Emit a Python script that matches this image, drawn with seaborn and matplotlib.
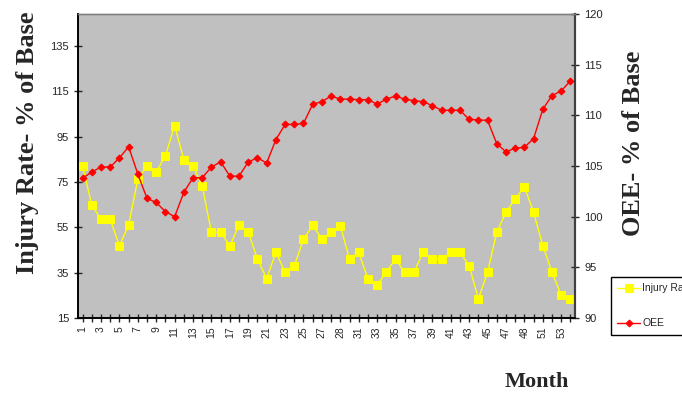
import numpy as np
import pandas as pd
import matplotlib
matplotlib.use("Agg")
import matplotlib.pyplot as plt
import seaborn as sns

months = [str(i) for i in range(1, 55)]
months[28] = "28"
months[48] = "48"

injury_rate = [82.0, 64.7, 58.5, 58.5, 46.9, 55.9, 76.2, 82.0, 79.4, 86.5,
               99.8, 84.8, 82.0, 73.1, 52.8, 52.8, 46.9, 55.9, 52.8, 41.0,
               32.3, 44.0, 35.3, 37.9, 49.8, 55.8, 49.9, 52.8, 55.7, 41.0,
               44.0, 32.3, 29.7, 35.2, 41.0, 35.2, 35.2, 44.0, 41.0, 41.0,
               44.0, 44.0, 38.1, 23.4, 35.2, 52.8, 61.6, 67.5, 72.9, 61.6,
               46.9, 35.2, 25.1, 23.4]

oee = [103.8, 104.4, 104.9, 104.9, 105.8, 106.9, 104.2, 101.8, 101.4, 100.5,
       100.0, 102.4, 103.85, 103.85, 104.9, 105.4, 104.0, 104.0, 105.4, 105.8,
       105.3, 107.6, 109.1, 109.1, 109.2, 111.1, 111.35, 111.9, 111.6, 111.6,
       111.55, 111.55, 111.1, 111.6, 111.9, 111.6, 111.45, 111.35, 110.96, 110.5,
       110.5, 110.5, 109.6, 109.55, 109.5, 107.2, 106.4, 106.75, 106.85, 107.7,
       110.6, 111.95, 112.4, 113.4]

left_ticks = [15, 35, 55, 75, 95, 115, 135]
right_ticks = [90, 95, 100, 105, 110, 115, 120]

sns.set_style("ticks")
plt.rcParams['font.family'] = ['Liberation Sans', 'DejaVu Sans']

W, H = 682, 395
fig = plt.figure(figsize=(W / 100, H / 100), dpi=100)
ax = fig.add_axes([78 / W, 1 - 318 / H, (575 - 78) / W, (318 - 14) / H])
ax.set_facecolor("#C0C0C0")

idx = np.arange(len(months))
df = pd.DataFrame({"idx": idx, "injury": injury_rate, "oee": oee})

sns.lineplot(data=df, x="idx", y="injury", ax=ax, color="#FFFF00", lw=1,
             marker="s", markersize=5.5, markeredgecolor="#FFFF00",
             label="Injury Rate", legend=False)
ax2 = ax.twinx()
sns.lineplot(data=df, x="idx", y="oee", ax=ax2, color="#FF0000", lw=1,
             marker="D", markersize=3.5, markeredgecolor="#FF0000",
             label="OEE", legend=False)

ax.set_xlim(-0.5, len(months) - 0.5)
ax.set_ylim(15, 149)
ax2.set_ylim(90, 120)
ax.set_yticks(left_ticks)
ax2.set_yticks(right_ticks)
ax.set_xticks(idx)
ax.set_xticklabels([m if i % 2 == 0 else "" for i, m in enumerate(months)],
                   rotation=90, fontsize=7.5)
ax.tick_params(axis="x", direction="inout", length=6, width=1, pad=3)
ax.tick_params(axis="y", direction="inout", length=6, width=1, labelsize=8)
ax2.tick_params(axis="y", direction="inout", length=6, width=1, labelsize=8)
ax.set_xlabel("")
ax.set_ylabel("")
ax2.set_ylabel("")

for a in (ax, ax2):
    for s in ("left", "bottom"):
        a.spines[s].set_color("black")
        a.spines[s].set_linewidth(1.2)
    a.spines["right"].set_color("#404040")
    a.spines["right"].set_linewidth(1.5)
    a.spines["top"].set_color("#808080")
    a.spines["top"].set_linewidth(1)
    a.spines["top"].set_visible(True)

fig.text(28 / W, 1 - 143 / H, "Injury Rate- % of Base", rotation=90,
         ha="center", va="center", fontsize=19, fontweight="bold",
         family="Liberation Serif")
fig.text(633 / W, 1 - 143 / H, "OEE- % of Base", rotation=90,
         ha="center", va="center", fontsize=19, fontweight="bold",
         family="Liberation Serif")
fig.text(537 / W, 1 - 382 / H, "Month", ha="center", va="center",
         fontsize=16, fontweight="bold", family="Liberation Serif")

h1, l1 = ax.get_legend_handles_labels()
h2, l2 = ax2.get_legend_handles_labels()
leg = fig.legend(h1 + h2, l1 + l2, loc="upper left",
                 bbox_to_anchor=(611 / W, 1 - 277 / H), borderaxespad=0,
                 fontsize=7.5, frameon=True, fancybox=False,
                 edgecolor="black", framealpha=1, borderpad=0.6,
                 labelspacing=2.4, handlelength=2.2, handletextpad=0.2)
leg.get_frame().set_linewidth(1)

fig.savefig("out.png", dpi=100)
